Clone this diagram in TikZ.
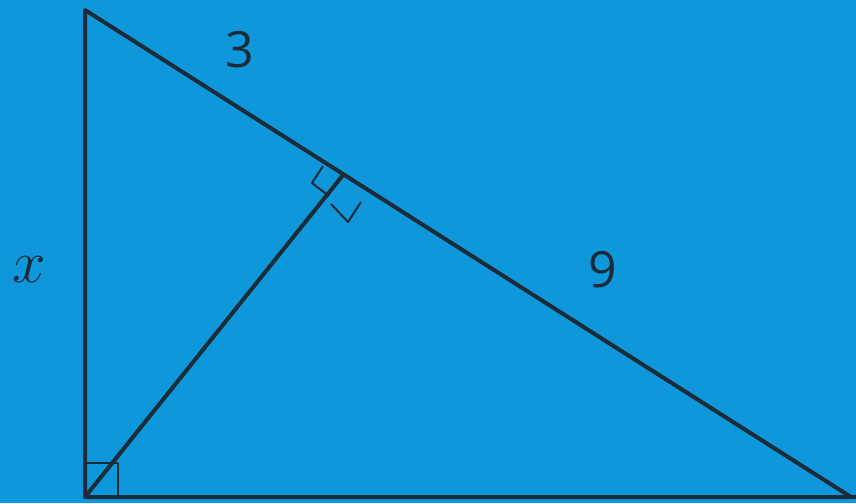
\documentclass[tikz,border=0pt]{standalone}
\usepackage{fontspec}
\setmainfont{Open Sans}
\definecolor{bgblue}{HTML}{0E98DB}
\definecolor{ink}{HTML}{1C2B38}

\newcommand*{\picw}{856}
\newcommand*{\pich}{503}

\begin{document}
\begin{tikzpicture}
[
	edge/.style={ink,line width=4pt,line join=round},
	rightmark/.style={ink,line width=2pt,line join=round},
	lbl/.style={text=ink,font=\fontsize{50}{58}\selectfont,inner sep=0pt},
	x=1pt,y=-1pt
]

	% background
	\fill[bgblue] (0,0) rectangle (\picw,\pich);
	\useasboundingbox (0,0) rectangle (\picw,\pich);

	% vertices
	\coordinate (top) at (85,10);
	\coordinate (bl) at (85,497);
	\coordinate (br) at (851,497);
	\coordinate (foot) at (343,175);

	% right angle marks
	\draw[rightmark] (85,463) -- (118,463) -- (118,497);
	\draw[rightmark] (323,166) -- (312,183) -- (329,196);
	\draw[rightmark] (331,204) -- (348,222) -- (361,202);

	% triangle
	\draw[edge] (top) -- (bl) -- (br) -- cycle;
	\draw[edge] (bl) -- (foot);
	\draw[ink,line width=4pt] (bl) -- (\picw,497);

	% lengths
	\node[lbl] (three) at (240,50) {3};
	\node[lbl] (nine) at (603,270) {9};
	\node[lbl] (xlab) at (29,270) {\fontsize{20}{24}\selectfont\scalebox{2.9}{$x$}};

\end{tikzpicture}
\end{document}
